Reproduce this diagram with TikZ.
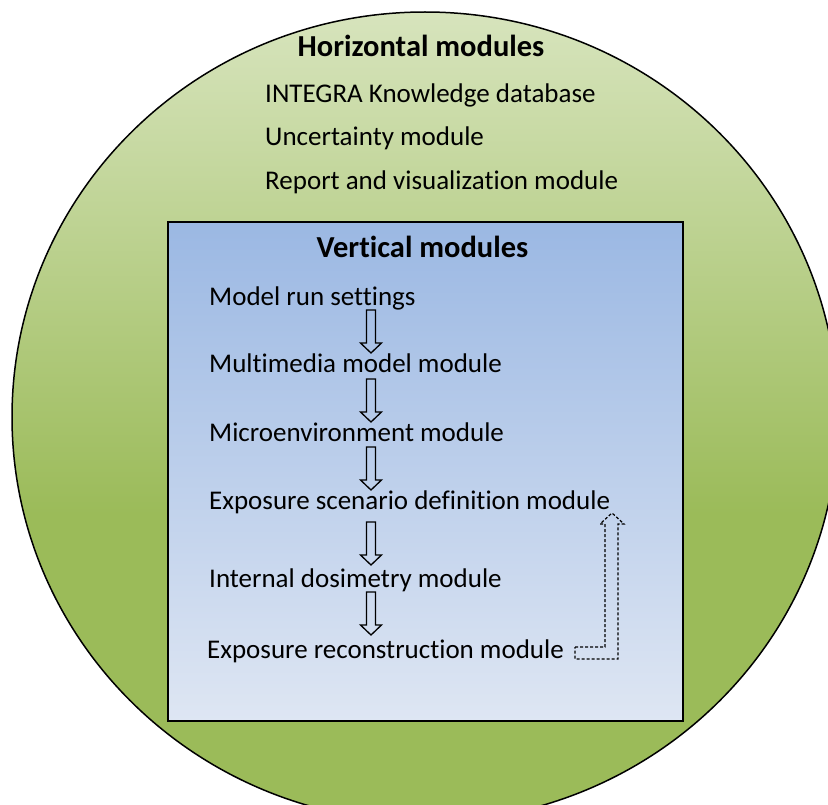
\documentclass[tikz,border=0pt]{standalone}
\usepackage{fontspec}
\setmainfont{Carlito}[Ligatures=NoCommon]
\definecolor{gTop}{RGB}{215,228,189}
\definecolor{gBot}{RGB}{155,187,89}
\definecolor{bTop}{RGB}{155,184,227}
\definecolor{bBot}{RGB}{222,230,243}
\pgfdeclareverticalshading{greenfade}{100bp}{color(0bp)=(gBot); color(44bp)=(gBot); color(75bp)=(gTop); color(100bp)=(gTop)}
\tikzset{
  bodytext/.style={anchor=base west, inner sep=0pt, font=\fontsize{27}{32}\selectfont},
  headtext/.style={anchor=base, inner sep=0pt, font=\fontsize{30.5}{36}\selectfont\bfseries},
  hollowdown/.pic={\draw[line width=1.3pt, line join=miter]
     (-4.5,0) -- (-4.5,33) -- (-10.5,33) -- (0,43) -- (10.5,33) -- (4.5,33) -- (4.5,0) -- cycle;},
  dashbox/.style={draw=black, line width=1.2pt, dash pattern=on 3pt off 2pt, line join=miter}
}
\begin{document}
\begin{tikzpicture}[x=1pt,y=-1pt]
\useasboundingbox (0,0) rectangle (828,805);
\begin{scope}
\clip (0,0) rectangle (828,805);
\shade[shading=greenfade, draw=black, line width=1.5pt] (425,417) ellipse [x radius=413, y radius=405];
\end{scope}
\shade[top color=bTop, bottom color=bBot, draw=black, line width=2.6pt] (168,222) rectangle (683,721);

\node[headtext] (hm) at (421,57) {Horizontal modules};
\node[bodytext] (h1) at (265,103) {INTEGRA Knowledge database};
\node[bodytext] (h2) at (265,146) {Uncertainty module};
\node[bodytext] (h3) at (265,190) {Report and visualization module};

\node[headtext] (vm) at (422.5,258) {Vertical modules};
\node[bodytext] (v1) at (209,306) {Model run settings};
\node[bodytext] (v2) at (209,373) {Multimedia model module};
\node[bodytext] (v3) at (209,441) {Microenvironment module};
\node[bodytext] (v4) at (209,509) {Exposure scenario definition module};
\node[bodytext] (v5) at (209,587) {Internal dosimetry module};
\node[bodytext] (v6) at (207,658) {Exposure reconstruction module};

\coordinate (a1) at (371,310);
\coordinate (a2) at (371,379);
\coordinate (a3) at (371,447);
\coordinate (a4) at (371,522);
\coordinate (a5) at (371,592);
\pic at (a1) {hollowdown};
\pic at (a2) {hollowdown};
\pic at (a3) {hollowdown};
\pic at (a4) {hollowdown};
\pic at (a5) {hollowdown};

\coordinate (fb) at (575,647);
\draw[dashbox] (fb) -- (605,647) -- (605,524) -- (600,524) -- (612,513) -- (624,524) -- (618,524) -- (618,659) -- (575,659) -- cycle;
\end{tikzpicture}
\end{document}
